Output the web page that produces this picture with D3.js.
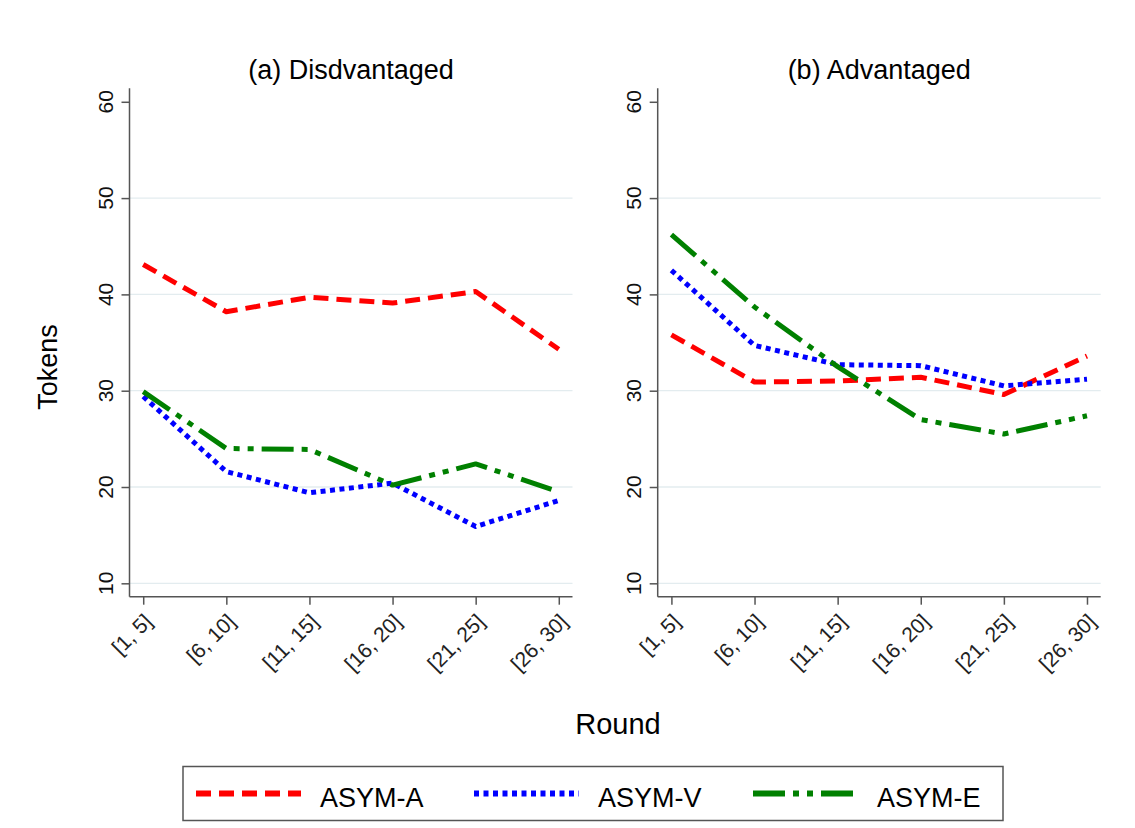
<!DOCTYPE html>
<html>
<head>
<meta charset="utf-8">
<script src="https://cdn.jsdelivr.net/npm/d3@7"></script>
<style>
  body { margin: 0; background: #fff; }
  svg { display: block; font-family: "Liberation Sans", Arial, Helvetica, sans-serif; }
</style>
</head>
<body>
<svg width="1135" height="828"></svg>
<script>
var rounds = ["[1, 5]", "[6, 10]", "[11, 15]", "[16, 20]", "[21, 25]", "[26, 30]"]
var yTicks = [10, 20, 30, 40, 50, 60]
var gridTicks = [10, 20, 30, 40, 50]

// (a) Disadvantaged
var disA = [43.1, 38.2, 39.7, 39.1, 40.3, 34.3]
var disV = [29.4, 21.6, 19.4, 20.4, 15.9, 18.6]
var disE = [29.9, 24.0, 23.9, 20.2, 22.4, 19.5]
// (b) Advantaged
var advA = [35.8, 30.9, 31.0, 31.4, 29.6, 33.6]
var advV = [42.5, 34.7, 32.7, 32.6, 30.5, 31.2]
var advE = [46.2, 38.7, 32.5, 27.0, 25.5, 27.4]

var seriesNames = ["ASYM-A", "ASYM-V", "ASYM-E"]
var colors = ["#ff0000", "#0000ff", "#008000"]
var dashes = ["15,8", "5,4.5", "32,8,6,8,6,8"]

var panels = [
    { title: "(a) Disdvantaged", left: 129.5, data: [disA, disV, disE] },
    { title: "(b) Advantaged", left: 657.7, data: [advA, advV, advE] }
]

var plotW = 443,
    plotTop = 88.3,
    plotBottom = 596.7

var svg = d3.select("svg")

var y = d3.scaleLinear().domain([8.61, 61.4]).range([plotBottom, plotTop])

panels.forEach(function(p) {
    var x = d3.scalePoint().domain(rounds).range([p.left, p.left + plotW]).padding(0.165)
    var g = svg.append("g")

    // grid
    g.selectAll(".grid").data(gridTicks).enter().append("line")
        .attr("x1", p.left).attr("x2", p.left + plotW)
        .attr("y1", function(d) { return y(d) }).attr("y2", function(d) { return y(d) })
        .attr("stroke", "#e3ecef").attr("stroke-width", 1.3)

    // y axis
    var yAxis = g.append("g").attr("transform", "translate(" + p.left + ",0)")
        .call(d3.axisLeft(y).tickValues(yTicks).tickSize(8).tickFormat(""))
    yAxis.select(".domain").attr("d", "M0," + plotTop + "V" + plotBottom)
    yAxis.selectAll("path, line").attr("stroke", "#555").attr("stroke-width", 1.5)
    g.selectAll(".ylab").data(yTicks).enter().append("text")
        .attr("transform", function(d) { return "translate(" + (p.left - 17) + "," + y(d) + ") rotate(-90)" })
        .attr("text-anchor", "middle")
        .attr("font-size", 21)
        .attr("fill", "#111")
        .text(function(d) { return d })

    // x axis
    var xAxis = g.append("g").attr("transform", "translate(0," + plotBottom + ")")
        .call(d3.axisBottom(x).tickSize(8).tickFormat(""))
    xAxis.select(".domain").attr("d", "M" + p.left + ",0H" + (p.left + plotW))
    xAxis.selectAll("path, line").attr("stroke", "#555").attr("stroke-width", 1.5)
    g.selectAll(".xlab").data(rounds).enter().append("text")
        .attr("transform", function(d) { return "translate(" + (x(d) + 5) + "," + (plotBottom + 21) + ") rotate(-45)" })
        .attr("text-anchor", "end")
        .attr("dy", "0.35em")
        .attr("font-size", 21)
        .attr("fill", "#222")
        .text(function(d) { return d })

    // title
    g.append("text")
        .attr("x", p.left + plotW / 2).attr("y", 79)
        .attr("text-anchor", "middle")
        .attr("font-size", 27)
        .attr("fill", "#000")
        .text(p.title)

    // lines
    var line = d3.line()
        .x(function(d, i) { return x(rounds[i]) })
        .y(function(d) { return y(d) })
    p.data.forEach(function(vals, k) {
        g.append("path")
            .datum(vals)
            .attr("d", line)
            .attr("fill", "none")
            .attr("stroke", colors[k])
            .attr("stroke-width", 5)
            .attr("stroke-dasharray", dashes[k])
            .attr("stroke-linejoin", "round")
    })
})

// axis titles
svg.append("text")
    .attr("transform", "translate(56.5,367) rotate(-90)")
    .attr("text-anchor", "middle")
    .attr("font-size", 27)
    .text("Tokens")

svg.append("text")
    .attr("x", 618).attr("y", 734)
    .attr("text-anchor", "middle")
    .attr("font-size", 29)
    .text("Round")

// legend
var legend = svg.append("g")
legend.append("rect")
    .attr("x", 183).attr("y", 766.5)
    .attr("width", 820).attr("height", 54)
    .attr("fill", "#fff").attr("stroke", "#555").attr("stroke-width", 1.5)

var legX = d3.scaleOrdinal().domain(seriesNames).range([196, 474, 753])
seriesNames.forEach(function(name, k) {
    legend.append("line")
        .attr("x1", legX(name)).attr("x2", legX(name) + 105)
        .attr("y1", 793.5).attr("y2", 793.5)
        .attr("stroke", colors[k])
        .attr("stroke-width", 6)
        .attr("stroke-dasharray", dashes[k])
    legend.append("text")
        .attr("x", legX(name) + 124).attr("y", 806.5)
        .attr("font-size", 27)
        .text(name)
})
</script>
</body>
</html>
